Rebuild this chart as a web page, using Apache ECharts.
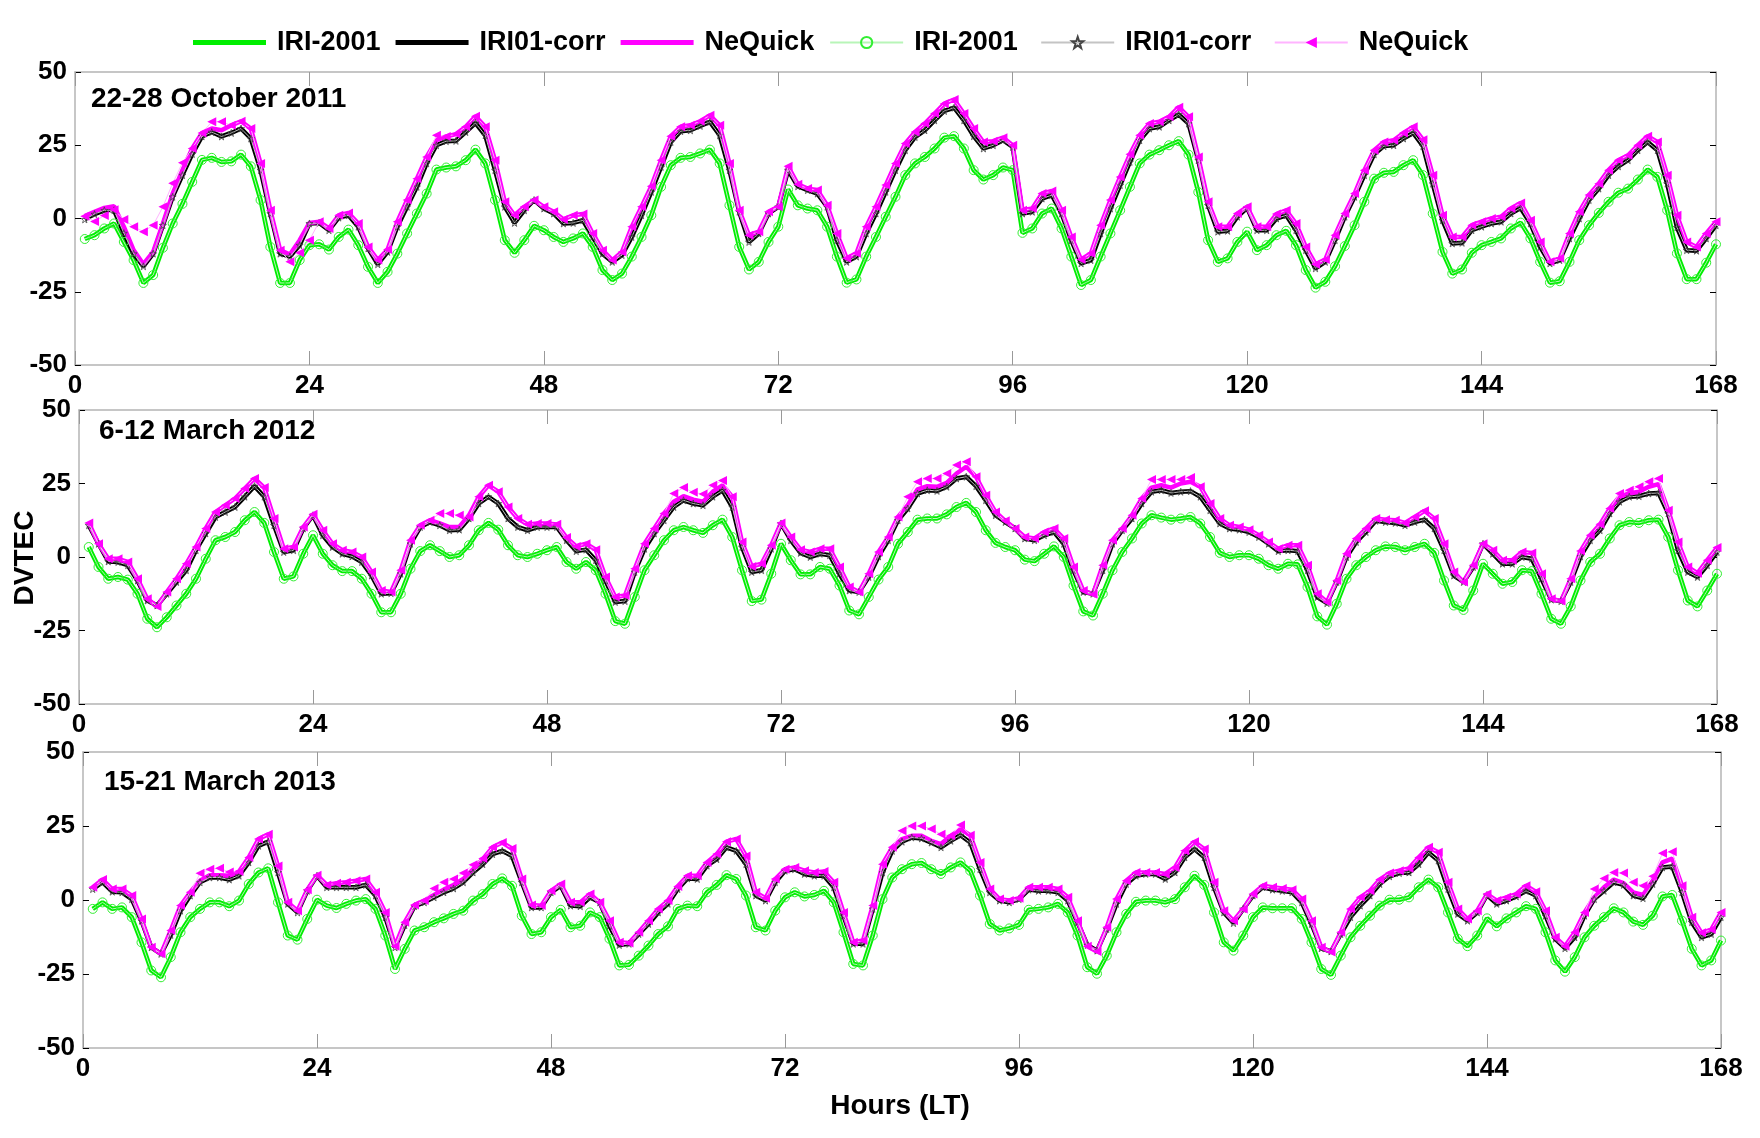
<!DOCTYPE html>
<html><head><meta charset="utf-8">
<script src="https://cdn.jsdelivr.net/npm/echarts@6/dist/echarts.min.js"></script>
<style>html,body{margin:0;padding:0;background:#fff}#c{width:1760px;height:1138px}</style>
</head><body><div id="c"></div>
<script>
const xTickLabels = [0, 24, 48, 72, 96, 120, 144, 168];
const yTickLabels = [-50, -25, 0, 25, 50];
const panelTitles = ['22-28 October 2011', '6-12 March 2012', '15-21 March 2013'];
const seriesNames = ['IRI-2001', 'IRI01-corr', 'NeQuick'];

// Panel 1 (hours 1..168)
const p1Iri = [-7,-5.7,-3.4,-1.7,-8,-14.2,-22,-19.3,-10,-1.7,
5,12.5,20,20.7,19.3,19.5,21.8,17.8,6.3,-9.7,
-22,-22,-14.2,-9.1,-8.8,-10.6,-6.3,-3.8,-9.1,-16.5,
-22,-18.2,-12,-5.1,1.7,8.5,16.7,17.4,17.8,19.9,
23.5,18.8,6.3,-7.4,-11.7,-7.4,-2.5,-4,-6.3,-8,
-6.8,-5.1,-9.7,-17.6,-21,-18.8,-13,-6.3,1.1,10.8,
18.2,20.7,21,22.2,23.5,18.8,4.5,-9.7,-17.4,-14.8,
-8,-2.8,9.9,4.5,3.4,2.8,-2.8,-13,-21.9,-20.8,
-13,-6.3,0.6,7.4,14.8,18.8,21,23.9,27.6,28.1,
23.9,16.5,13.3,14.8,17.4,16.5,-4.9,-3.4,1.7,3.4,
-3.4,-13,-22.7,-21,-13,-5.1,2.8,10.8,18.8,21.8,
23.3,25,26.4,21.8,9,-7.4,-14.8,-13.6,-8,-4.5,
-10.8,-9.1,-5.7,-4.2,-9.1,-17.6,-23.6,-21.6,-16.3,-9.4,
-2.3,5.7,13.6,15.6,15.9,18.2,19.9,14.8,1.7,-11.4,
-18.8,-17.4,-11.7,-9.1,-8,-6.8,-3.4,-1.4,-6.8,-14.8,
-21.9,-21.4,-14.8,-7.4,-2.3,1.9,5.7,8.8,10.2,13.3,
16.7,14.2,2.8,-11.9,-20.7,-20.7,-15.1,-8.8];
const p1Corr = [-0.3,1.5,2.8,2.8,-5,-12,-16.3,-12,-2.3,7.4,
14.8,22,28,29.5,28,29.2,30.7,27.3,16.5,1.7,
-12,-13,-9.1,-1.7,-1.5,-4,0.3,1.1,-2.8,-10.2,
-15.6,-11.4,-2.8,4,10.8,18.8,25,26.4,26.5,29.5,
32.6,28.4,16.5,4,-1.5,2.8,6.3,3.4,1.7,-1.7,
-1.5,-0.6,-6.3,-12,-14.8,-12.5,-6.3,1.1,9.1,17.6,
26.1,29.8,30.1,31.6,33,28.4,16.5,2.3,-8,-5.1,
1.7,4,16.5,11,9.7,8.5,4,-7.4,-14.8,-13,
-5.1,1.7,9.1,16.5,23.3,27.8,30.1,33.5,36.7,37.8,
33.5,28.1,23.9,25,26.7,24.4,1.7,2.3,6.8,8,
1.7,-7.4,-15.3,-14.2,-5.1,3.4,11.4,19.3,26.7,30.7,
31.3,33.5,35.5,32.4,19.9,4.5,-4.5,-4.2,0.6,3.6,
-4,-4,0,1.1,-4,-10.8,-17,-14.8,-7.4,0.6,
7.4,14.8,21.9,24.7,25,27.3,29.2,24.7,11.9,-0.6,
-8.5,-8.3,-4,-2.8,-1.7,-1.1,1.7,3.6,-1.7,-9.7,
-15.3,-14.2,-6.8,0,6.3,10.2,14.8,17.8,19.9,23.3,
26.1,23.3,11.9,-3,-10.8,-11,-6.8,-2.3];
const p1Neq = [0.8,2.3,3.6,4.2,-2.8,-10.8,-15.6,-11.4,-1.7,8.5,
16.5,23.9,29.2,30.7,30.1,31.8,33.2,30.7,18.8,2.8,
-10.8,-12.3,-7.4,-1.5,-1.1,-3.4,1.1,1.9,-1.7,-9.7,
-14.2,-10.6,-1.1,6.3,13.6,21,26.7,28,28.8,31.3,
34.9,31.3,19.9,5.7,1.1,4,6.3,4,2.3,-0.3,
1.1,1.5,-5.1,-10.8,-14.2,-11.4,-2.8,4,11,19.9,
28.1,31.3,31.8,33.2,35.2,31.8,18.8,2.8,-5.7,-4.5,
2.3,4,17.8,11.7,10.2,9.7,4.5,-5.1,-13.6,-11.9,
-2.8,4,11.4,18.8,25.6,29.5,32.4,35.8,39.2,40.6,
35.8,30.7,26.1,26.4,27.6,25,2.8,3.4,8.5,9.4,
2.8,-6.3,-14,-11.9,-2.3,6.3,14.2,21.9,28.4,32.4,
33,34.7,38,34.7,21,5.7,-2.8,-2.8,1.7,4,
-2.8,-2.8,1.5,2.8,-1.7,-9.7,-15.6,-14,-5.7,1.7,
8.5,16.5,23.3,26.1,26.7,29.2,31.3,26.9,14.8,1.1,
-6.3,-6.3,-2.3,-1.1,0,0.6,3.4,5.3,-0.6,-8,
-14.8,-13.6,-5.1,2.3,8,11.9,16.5,19.9,21.6,25,
28.1,26.1,14.8,1.1,-8,-9.7,-5.1,-1.1];
const p1NeqMarks = [0.8,-1,1,3,-0.3,-2.8,-4.5,-2.3,4,12,
19,23.9,29.2,33,33,31.8,33.2,30.7,18.8,2.8,
-10.8,-14.8,-11.7,-7.4,-1.1,-3.4,1.1,1.9,-1.7,-9.7,
-14.2,-10.6,-1.1,6.3,13.6,21,28.4,28,28.8,31.3,
34.9,31.3,19.9,5.7,1.1,4,6.3,4,2.3,-0.3,
1.1,1.5,-5.1,-10.8,-14.2,-11.4,-2.8,4,11,19.9,
28.1,31.3,31.8,33.2,35.2,31.8,18.8,2.8,-5.7,-4.5,
2.3,4,17.8,11.7,10.2,9.7,4.5,-5.1,-13.6,-11.9,
-2.8,4,11.4,18.8,25.6,29.5,32.4,35.8,39.2,40.6,
35.8,30.7,26.1,26.4,27.6,25,2.8,3.4,8.5,9.4,
2.8,-6.3,-14,-11.9,-2.3,6.3,14.2,21.9,28.4,32.4,
33,34.7,38,34.7,21,5.7,-2.8,-2.8,1.7,4,
-2.8,-2.8,1.5,2.8,-1.7,-9.7,-15.6,-14,-5.7,1.7,
8.5,16.5,23.3,26.1,26.7,29.2,31.3,26.9,14.8,1.1,
-6.3,-6.3,-2.3,-1.1,0,0.6,3.4,5.3,-0.6,-8,
-14.8,-13.6,-5.1,2.3,8,11.9,16.5,19.9,21.6,25,
28.1,26.1,14.8,1.1,-8,-9.7,-5.1,-1.1];

// Panel 2
const p2Iri = [3.4,-3.4,-7.4,-6.8,-7.7,-12.5,-21,-23.9,-20.5,-16.5,
-12.5,-7.4,-0.6,5.7,6.8,8.5,12.5,15.3,11.6,1.7,
-7.4,-6.6,1.1,7.4,1.1,-2.8,-4.8,-4.8,-7.4,-12.5,
-18.8,-18.8,-12.5,-4,2,4,2,0,0.6,4,
9.1,11.6,9.3,4,0.6,0,1.1,2.3,3.4,-1.7,
-4,-1.7,-4.5,-12.5,-21.8,-22.7,-13.6,-4.5,0.6,5.7,
9.1,10.2,9.1,8.2,10.8,12.7,6.8,-4.5,-15,-14.5,
-5.7,4.5,-1.1,-5.9,-5.9,-3.4,-4,-9.7,-18.2,-19.5,
-13.6,-7.7,-3.4,4.5,8.5,12.7,13.1,13.1,14.5,17,
18.4,15.3,9.1,4.8,3.4,2.3,-0.9,-1.4,1.1,3.6,
0,-9.7,-18.5,-19.9,-12.5,-4.5,1.7,6.3,11.4,14.2,
13.4,12.7,13.1,13.6,11.4,6.8,1.4,0,0.6,0.6,
-0.6,-2.8,-4,-2.3,-2.5,-10.2,-20.2,-23,-15.9,-7.4,
-2.8,0,2.3,3.6,3.4,2.3,3.4,4.5,1.4,-8,
-16.5,-18,-11.4,-2.3,-5.7,-9.1,-8.5,-4.5,-4.8,-12.5,
-21,-22.7,-16.8,-8,-1.7,1.1,6.3,10.8,11.9,11.6,
12.5,12.7,6.8,-4.5,-14.8,-16.8,-11.4,-5.7];
const p2Corr = [10.8,4.5,-1.5,-1.7,-2.8,-8,-14.8,-16.5,-12.5,-8.5,
-4.5,2.3,8,13.6,15.3,17,20.5,24.1,20.5,10.8,
1.7,2.3,9.7,14.2,7.4,3.4,1.1,0.2,-1.7,-6.3,
-12.5,-12.3,-5.7,4.5,10.2,11.9,10.8,9.1,9.3,13.1,
18.2,20.5,18.2,13.1,10.2,9.1,10.2,10.2,10.2,5.7,
2,2.5,-1.1,-8,-15.3,-15,-5.1,2.8,8,12.5,
17,19.3,18.2,17.6,20.5,22.7,17,3.4,-5.1,-4.5,
2.8,11.4,5.7,1.4,0,1.1,0.6,-5.7,-11.4,-11.9,
-6.8,0.2,5.7,12.5,16.5,21.6,22.7,22.5,23.9,26.7,
27.3,24.1,19.3,14.2,11.9,9.7,6.3,5.7,7.4,8.5,
4.5,-4.5,-11.9,-12.5,-4.5,4.5,9.1,13.1,18.2,22.2,
22.7,21.8,22.2,22.4,20.5,15.9,11.4,9.7,9.3,8.5,
6.8,4.5,2,2.3,2,-4.5,-13.6,-15.7,-8.5,0,
5.1,8.5,12.3,11.9,11.6,10.8,11.9,12.7,9.7,2.3,
-6.3,-8.5,-3.4,4.5,1.1,-2.3,-2.3,0,-0.6,-7.4,
-14.5,-15,-8.5,0.2,5.7,9.1,14.8,18.8,20.5,20.7,
21.6,21.8,14.8,2.3,-5.1,-6.8,-2.8,1.7];
const p2Neq = [11.6,4.5,-0.6,-0.6,-1.7,-7.4,-14.2,-16.8,-11.9,-7.4,
-2.3,3.4,9.7,15.3,17.6,19.9,23.3,26.7,23.6,13.1,
2.8,3.4,10.2,14.5,9.1,4.5,2.3,1.7,0,-5.1,
-11.4,-11.9,-4.5,5.7,10.8,12.5,11.4,10.2,10.2,14.2,
20.5,24.4,22.2,17,13.1,11.1,11.4,11.4,11.1,6.6,
3.6,4.5,2.5,-6.8,-13.6,-13.1,-4,4.5,9.7,14.8,
18.8,20.7,19.5,18.8,22.2,24.4,20.5,5.1,-3.2,-2.3,
4,11.6,6.8,2.5,1.7,2.8,2.8,-3.4,-10.2,-11.9,
-5.7,1.7,6.8,13.6,17.6,23,24.1,23.9,25.2,28.4,
30.7,27.3,21,15.3,12.3,9.7,6.8,6.3,8.5,9.7,
6.3,-3.4,-11.4,-12.7,-2.8,5.7,9.7,14.2,19.9,23.6,
24.4,23.6,25,25.6,23.9,18.2,13.1,10.8,10.2,9.3,
7.4,5.1,2.8,4,4,-2.8,-12.5,-15.3,-8,1.1,
6.3,9.7,13.1,12.7,12.5,11.6,13.6,15.7,13.1,4.5,
-5.1,-8.5,-2.8,4.5,2.3,-1.1,-1.1,1.7,1.4,-5.7,
-14.2,-15,-7.4,2,7.4,11.1,16.5,20.5,21.6,22.2,
23.9,24.8,15.9,5.1,-3.4,-5.5,-1.1,3.2];
const p2NeqMarks = [11.6,4.5,-0.6,-0.6,-1.7,-7.4,-14.2,-16.8,-11.9,-7.4,
-2.3,3.4,9.7,15.3,17.6,19.9,23.3,26.7,23.6,13.1,
2.8,3.4,10.2,14.5,9.1,4.5,2.3,1.7,0,-5.1,
-11.4,-11.9,-4.5,5.7,10.8,12.5,14.8,14.8,14.2,13.6,
20.5,24.4,22.2,17,13.1,11.1,11.4,11.4,11.1,6.6,
3.6,4.5,2.5,-6.8,-13.6,-13.1,-4,4.5,9.7,14.8,
21.6,23.6,22,21.4,24.4,26,20.5,5.1,-3.2,-2.3,
4,11.6,6.8,2.5,1.7,2.8,2.8,-3.4,-10.2,-11.9,
-5.7,1.7,6.8,13.6,20.5,25.6,26.7,26.7,28.4,31.3,
32.4,27.3,21,15.3,12.3,9.7,6.8,6.3,8.5,9.7,
6.3,-3.4,-11.4,-12.7,-2.8,5.7,9.7,14.2,19.9,26.4,
26.4,26.4,26.4,27,23.9,18.2,13.1,10.8,10.2,9.3,
7.4,5.1,2.8,4,4,-2.8,-12.5,-15.3,-8,1.1,
6.3,9.7,13.1,12.7,12.5,11.6,13.6,15.7,13.1,4.5,
-5.1,-8.5,-2.8,4.5,2.3,-1.1,-1.1,1.7,1.4,-5.7,
-14.2,-15,-7.4,2,7.4,11.1,16.5,21.6,22.7,23.9,
25.6,26.7,15.9,5.1,-3.4,-5.5,-1.1,3.2];

// Panel 3
const p3Iri = [-3,-0.8,-3,-2.5,-5.8,-14.3,-23.8,-26.1,-19.3,-10.9,
-5.8,-3,-0.8,-0.8,-2.1,-0.2,5.4,9.3,10.7,-0.8,
-12,-13.4,-6.4,0.1,-1.9,-2.7,-1.3,-0.2,0.3,-3,
-12,-23.3,-16.5,-10.3,-9.2,-7.5,-6.2,-4.7,-3.6,-0.2,
2,5.4,7.3,4.8,-5.3,-11.5,-10.9,-5.8,-3.3,-9.2,
-8.7,-4.2,-5.8,-13.1,-22.1,-21.9,-18.8,-15.4,-11.5,-8.9,
-3,-1.9,-2.1,2.6,5.1,8.4,7.1,1.5,-9.2,-10.3,
-3.6,0.9,2.6,1.2,1.7,3.1,-0.8,-10.9,-21.6,-22.1,
-12,0.3,7.6,10.4,12.1,12.5,10.4,8.8,11,12.7,
9.9,1.5,-8.1,-10.3,-9.6,-8.4,-3.3,-3,-2.5,-1.3,
-4.2,-12,-22.7,-24.9,-18.8,-10.9,-4.7,-0.6,-0.2,-0.2,
-0.8,0.3,4.3,8.2,5.1,-4.2,-14.3,-17.1,-12,-5.8,
-2.5,-2.8,-2.8,-2.8,-6.4,-14.3,-23.3,-25.3,-18.8,-12.6,
-8.7,-5.3,-1.9,0.1,0.1,0.9,4.3,6.9,4.3,-4.2,
-13.1,-15.6,-12,-6.2,-8.9,-6.2,-4.2,-2.1,-3,-10.9,
-20.4,-24.2,-19.3,-12.6,-8.7,-5.8,-2.8,-4.2,-7.3,-8.4,
-5.3,1.2,1.7,-7,-16.5,-22.1,-20.4,-13.7];
const p3Corr = [3.7,6,2.8,2.6,0.3,-7,-16,-18.2,-11.8,-3.6,
1.5,6,7.6,7.6,6.9,8.2,12.7,18.3,19.7,9.3,
-1.3,-4.2,3.1,8.2,4.3,4.3,4.3,4.3,5.1,1.5,
-5.8,-16,-8.5,-2.1,-0.8,0.9,2.6,3.9,6,9.3,
12.1,15.5,16.6,14.9,6,-2.5,-2.5,2.6,4.8,-1.9,
-2.1,0.9,-0.8,-8.7,-15.2,-14.8,-11.5,-8.1,-4.2,-1.3,
3.7,7.3,7.1,11.6,13.8,17.8,16.6,12.1,1.5,-0.2,
6,9.9,10.4,8.8,8.2,8.2,4.3,-5.3,-14.8,-14.8,
-3,9.3,16.6,19.7,21.1,20.8,19.4,17.8,20,21.9,
19.4,10.4,2.6,-0.2,-0.8,0.3,3.5,3.1,3.1,2.6,
-0.2,-7.5,-15.2,-17.1,-9.8,-1.3,5.4,8.2,8.8,8.8,
7.1,9.3,14.4,17.2,14.4,4.3,-4.2,-7.8,-3,1.5,
4.3,3.5,3.1,2.6,-0.8,-8.1,-16.3,-17.4,-11.5,-5.8,
-1.9,1.5,5.4,8,9.1,9.3,12.1,16.1,13.3,3.7,
-4.7,-7,-4.2,1.7,-1.3,-0.2,1.2,3.1,1.5,-5.3,
-13.1,-16.3,-12.6,-5.3,0.3,3.1,6,5.1,1.5,0.6,
5.4,11,11.3,2.6,-7.5,-12.6,-11.5,-5.8];
const p3Neq = [4.3,6.9,3.7,3.7,1.5,-6.4,-16,-18.2,-10.3,-1.9,
2.6,6.5,8.4,8.4,8.2,9.6,14.4,20.6,22.2,11.5,
-0.8,-3.6,3.5,8.4,5.1,5.7,6,6.5,7.1,2.6,
-4.2,-15.6,-7.5,-1.7,-0.2,1.7,3.5,5.1,7.1,10.4,
13.8,17.8,19.4,17.4,7.1,-1.7,-1.9,3.1,5.4,-0.8,
-0.8,2,-0.8,-7,-14.3,-14.5,-10.9,-7,-3,-0.2,
4.6,8.2,8.2,12.7,15.5,19.7,20.6,14.9,2.6,0.6,
7.1,10.4,11,9.9,9.3,9.6,6,-4.2,-14.3,-13.7,
-1.9,12.1,17.8,20.6,21.7,21.7,20,18.9,21.7,23.9,
21.9,12.7,3.7,0.3,-0.2,0.6,4.3,4.3,4.3,3.7,
0.9,-7,-15.6,-17.4,-9.2,0.3,6.5,9.3,9.3,9.3,
8.8,11,16.6,19.7,17.2,6,-3.6,-7,-3,2,
4.8,4.3,3.9,3.5,0.3,-7,-16,-17.6,-10.9,-3,
0.9,3.1,6.9,9.1,9.9,10.7,14.4,17.8,16.1,6,
-3,-6.4,-3.6,2,-0.2,0.9,2,4.8,2.8,-3.6,
-12.6,-15.6,-10.9,-4.2,0.9,4.3,6.9,5.7,2.6,1.7,
6.5,12.7,14,4.8,-5.8,-11.1,-10,-4.2];
const p3NeqMarks = [4.3,6.9,3.7,3.7,1.5,-6.4,-16,-18.2,-10.3,-1.9,
2.6,9,10.4,10.7,9.5,9.6,14.4,20.6,22.2,11.5,
-0.8,-3.6,3.5,8.4,5.1,5.7,6,6.5,7.1,2.6,
-4.2,-15.6,-7.5,-1.7,-0.2,3.9,6,7.1,9.1,11.9,
14,17.8,19.4,17.4,7.1,-1.7,-1.9,3.1,5.4,-0.8,
-0.8,2,-0.8,-7,-14.3,-14.5,-10.9,-7,-3,-0.2,
4.6,8.2,8.2,12.7,15.5,19.7,20.6,14.9,2.6,0.6,
7.1,10.4,11,9.9,9.3,9.6,6,-4.2,-14.3,-13.7,
-1.9,12.1,17.8,23.4,25,25,24,22.2,21.7,25.3,
21.9,12.7,3.7,0.3,-0.2,0.6,4.3,4.3,4.3,3.7,
0.9,-7,-15.6,-17.4,-9.2,0.3,6.5,9.3,9.3,9.3,
8.8,11,16.6,19.7,17.2,6,-3.6,-7,-3,2,
4.8,4.3,3.9,3.5,0.3,-7,-16,-17.6,-10.9,-3,
0.9,3.1,6.9,9.1,9.9,10.7,14.4,17.8,16.1,6,
-3,-6.4,-3.6,2,-0.2,0.9,2,4.8,2.8,-3.6,
-12.6,-15.6,-10.9,-4.2,3.7,7.3,9.3,9.1,6,4.8,
8,15.8,16.3,4.8,-5.8,-11.1,-10,-4.2];

const panels = [
  {iri: p1Iri, corr: p1Corr, neq: p1Neq, neqMk: p1NeqMarks},
  {iri: p2Iri, corr: p2Corr, neq: p2Neq, neqMk: p2NeqMarks},
  {iri: p3Iri, corr: p3Corr, neq: p3Neq, neqMk: p3NeqMarks}
];

const FONT = '"Liberation Sans", Arial, sans-serif';
const grids = [
  {left: 75, top: 72, width: 1641, height: 293},
  {left: 79, top: 410, width: 1638, height: 294},
  {left: 83, top: 752, width: 1638, height: 296}
];
const axisGray = '#b4b4b4';
const starPath = 'path://M0,-10L2.35,-3.24L9.51,-3.09L3.8,1.24L5.88,8.09L0,4L-5.88,8.09L-3.8,1.24L-9.51,-3.09L-2.35,-3.24Z';
const barIcon = 'path://M0,0H73V5H0Z';

function pairs(arr) { return arr.map((v, i) => [i + 1, v]); }

const xAxes = [], yAxes = [], series = [];
grids.forEach((g, i) => {
  xAxes.push({
    type: 'value', gridIndex: i, position: 'bottom', min: 0, max: 168, interval: 24,
    axisLine: {onZero: false, lineStyle: {color: axisGray, width: 1.5}},
    axisTick: {inside: true, length: 14, lineStyle: {color: '#999'}},
    axisLabel: {color: '#000', fontSize: 26, fontWeight: 'bold', fontFamily: FONT, margin: 8,
      formatter: v => xTickLabels.includes(v) ? String(v) : ''},
    splitLine: {show: false}
  });
  xAxes.push({
    type: 'value', gridIndex: i, position: 'top', min: 0, max: 168, interval: 24,
    axisLine: {onZero: false, lineStyle: {color: axisGray, width: 1.5}},
    axisTick: {inside: true, length: 14, lineStyle: {color: '#999'}},
    axisLabel: {show: false}, splitLine: {show: false}
  });
  yAxes.push({
    type: 'value', gridIndex: i, position: 'left', min: -50, max: 50, interval: 25,
    axisLine: {show: true, onZero: false, lineStyle: {color: axisGray, width: 1.5}},
    axisTick: {show: true, inside: true, length: 6, lineStyle: {color: '#000'}},
    axisLabel: {color: '#000', fontSize: 26, fontWeight: 'bold', fontFamily: FONT, margin: 8,
      formatter: v => yTickLabels.includes(v) ? String(v) : ''},
    splitLine: {show: false}
  });
  yAxes.push({
    type: 'value', gridIndex: i, position: 'right', min: -50, max: 50, interval: 25,
    axisLine: {show: true, onZero: false, lineStyle: {color: axisGray, width: 1.5}},
    axisTick: {show: true, inside: true, length: 6, lineStyle: {color: '#000'}},
    axisLabel: {show: false}, splitLine: {show: false}
  });

  const p = panels[i];
  const base = {type: 'line', xAxisIndex: i * 2, yAxisIndex: i * 2, silent: true, animation: false};
  series.push(Object.assign({}, base, {name: seriesNames[0], data: pairs(p.iri), symbol: 'none',
    lineStyle: {color: '#00ee00', width: 4.5}, itemStyle: {color: '#00ee00'}, z: 2}));
  series.push(Object.assign({}, base, {name: seriesNames[1], data: pairs(p.corr), symbol: 'none',
    lineStyle: {color: '#000000', width: 4.5}, itemStyle: {color: '#000000'}, z: 3}));
  series.push(Object.assign({}, base, {name: seriesNames[2], data: pairs(p.neq), symbol: 'none',
    lineStyle: {color: '#ff00ff', width: 4.5}, itemStyle: {color: '#ff00ff'}, z: 4}));
  series.push(Object.assign({}, base, {name: seriesNames[0] + ' ', data: pairs(p.iri),
    symbol: 'circle', symbolSize: 9, showAllSymbol: true,
    lineStyle: {color: '#b8f5b8', width: 1},
    itemStyle: {color: 'rgba(0,0,0,0)', borderColor: '#33ee33', borderWidth: 1}, z: 5}));
  series.push(Object.assign({}, base, {name: seriesNames[1] + ' ', data: pairs(p.corr),
    symbol: starPath, symbolSize: 7, showAllSymbol: true,
    lineStyle: {color: '#c4c4c4', width: 1},
    itemStyle: {color: 'rgba(0,0,0,0)', borderColor: '#444', borderWidth: 0.8}, z: 6}));
  series.push(Object.assign({}, base, {name: seriesNames[2] + ' ', data: pairs(p.neqMk),
    symbol: 'triangle', symbolRotate: 90, symbolSize: 9, showAllSymbol: true,
    lineStyle: {color: '#ffb4ff', width: 1},
    itemStyle: {color: '#ff00ff'}, z: 7}));
});

const graphics = [];
const titlePos = [[91, 99], [99, 431], [104, 782]];
panelTitles.forEach((t, i) => {
  graphics.push({type: 'text', x: titlePos[i][0], y: titlePos[i][1],
    style: {text: t, fontSize: 28, fontWeight: 'bold', fontFamily: FONT, fill: '#000',
      align: 'left', verticalAlign: 'middle'}});
});
graphics.push({type: 'text', x: 25, y: 558, rotation: Math.PI / 2,
  style: {text: 'DVTEC', fontSize: 28, fontWeight: 'bold', fontFamily: FONT, fill: '#000',
    align: 'center', verticalAlign: 'middle'}});
graphics.push({type: 'text', x: 900, y: 1106,
  style: {text: 'Hours (LT)', fontSize: 28, fontWeight: 'bold', fontFamily: FONT, fill: '#000',
    align: 'center', verticalAlign: 'middle'}});

const chart = echarts.init(document.getElementById('c'), null, {renderer: 'canvas'});
chart.setOption({
  backgroundColor: '#fff',
  animation: false,
  textStyle: {fontFamily: FONT},
  legend: {
    left: 188, top: 24, itemWidth: 73, itemHeight: 14, itemGap: 15,
    data: [
      {name: seriesNames[0], icon: barIcon},
      {name: seriesNames[1], icon: barIcon},
      {name: seriesNames[2], icon: barIcon},
      seriesNames[0] + ' ', seriesNames[1] + ' ', seriesNames[2] + ' '],
    textStyle: {fontSize: 27, fontWeight: 'bold', color: '#000', fontFamily: FONT, padding: [0, 0, 0, 6]}
  },
  grid: grids,
  xAxis: xAxes,
  yAxis: yAxes,
  series: series,
  graphic: graphics
});
</script></body></html>
